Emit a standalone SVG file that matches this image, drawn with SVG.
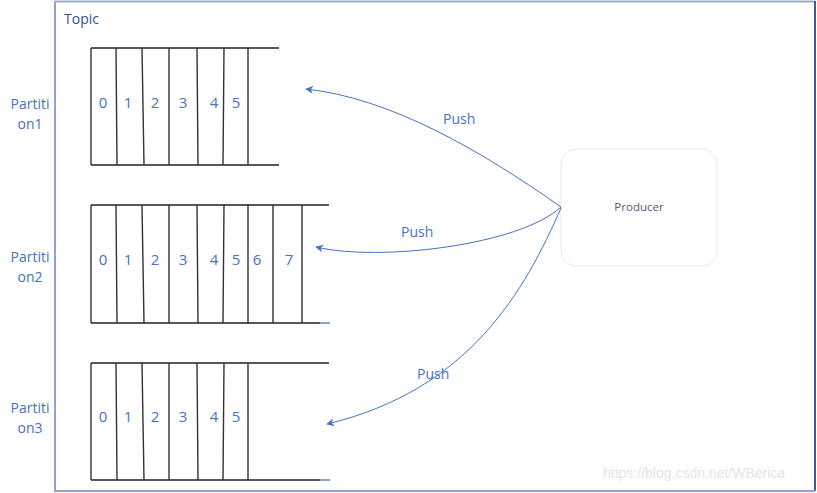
<svg xmlns="http://www.w3.org/2000/svg" width="817" height="493" viewBox="0 0 817 493">
<defs>
<style>
.frame{fill:none;stroke:#8FA2C8;stroke-width:2}
.ln{stroke:#222;stroke-width:1.3;fill:none}
.dv{stroke:#333;stroke-width:1.4;fill:none}
.dg{font-family:"Open Sans","Liberation Sans",sans-serif;font-size:15px;fill:#4472C4;text-anchor:middle}
.pl{font-family:"Open Sans","Liberation Sans",sans-serif;font-size:14px;fill:#4472C4;text-anchor:middle}
.push{font-family:"Open Sans","Liberation Sans",sans-serif;font-size:14px;fill:#4472C4}
.conn{fill:none;stroke:#4472C4;stroke-width:1}
</style>
<marker id="ah" viewBox="0 0 10 10" refX="9" refY="5" markerWidth="8" markerHeight="8" orient="auto-start-reverse" markerUnits="userSpaceOnUse">
<path d="M0,0 L10,5 L0,10 L3,5 Z" fill="#4472C4"/>
</marker>
</defs>
<rect width="817" height="493" fill="#fff"/>
<g id="topic">
<path d="M55,1.5 H815" stroke="#9BAACB" stroke-width="2" fill="none"/>
<path d="M815,1 V491" stroke="#3C5A9A" stroke-width="2" fill="none"/>
<path d="M55,1 V491 H815" stroke="#8FA2C8" stroke-width="2" fill="none"/>
<text x="64" y="24" font-family="'Open Sans','Liberation Sans',sans-serif" font-size="14" fill="#2F4F8F">Topic</text>
</g>
<g id="partition1">
<text class="pl" x="30" y="109">Partiti</text>
<text class="pl" x="30" y="129">on1</text>
<path class="ln" d="M91,48 H279 M91,165 H279 M91,48 V165"/>
<path class="dv" d="M116,48 L117,165 M142,48 L144,165 M169,48 V165 M197,48 L198,165 M224,48 L223,165 M248,48 V165"/>
<text class="dg" x="103" y="108">0</text><text class="dg" x="128" y="108">1</text><text class="dg" x="155" y="108">2</text><text class="dg" x="183" y="108">3</text><text class="dg" x="214" y="108">4</text><text class="dg" x="236" y="108">5</text>
</g>
<g id="partition2">
<text class="pl" x="30" y="262">Partiti</text>
<text class="pl" x="30" y="282">on2</text>
<path class="ln" d="M91,205 H329 M91,323 H320 M91,205 V323"/>
<path d="M320,323 H330" stroke="#4472C4" stroke-width="1.3"/>
<path class="dv" d="M116,205 L117,323 M142,205 L144,323 M169,205 V323 M197,205 L198,323 M224,205 L223,323 M248,205 V323 M273,205 V323 M302,205 V323"/>
<text class="dg" x="103" y="265">0</text><text class="dg" x="128" y="265">1</text><text class="dg" x="155" y="265">2</text><text class="dg" x="183" y="265">3</text><text class="dg" x="214" y="265">4</text><text class="dg" x="236" y="265">5</text><text class="dg" x="257" y="265">6</text><text class="dg" x="289" y="265">7</text>
</g>
<g id="partition3">
<text class="pl" x="30" y="413">Partiti</text>
<text class="pl" x="30" y="433">on3</text>
<path class="ln" d="M91,363 H329 M91,480 H320 M91,363 V480"/>
<path d="M320,480 H330" stroke="#4472C4" stroke-width="1.3"/>
<path class="dv" d="M116,363 L117,480 M142,363 L144,480 M169,363 V480 M197,363 L198,480 M224,363 L223,480 M248,363 V480"/>
<text class="dg" x="103" y="422">0</text><text class="dg" x="128" y="422">1</text><text class="dg" x="155" y="422">2</text><text class="dg" x="183" y="422">3</text><text class="dg" x="214" y="422">4</text><text class="dg" x="236" y="422">5</text>
</g>
<g id="producer">
<rect x="561" y="149" width="156" height="117" rx="15" fill="#fff" stroke="#E6E8EF" stroke-width="1"/>
<text x="639" y="211" font-family="'Open Sans','Liberation Sans',sans-serif" font-size="11.5" fill="#555a78" text-anchor="middle">Producer</text>
</g>
<g id="connectors">
<path class="conn" marker-end="url(#ah)" d="M561,207 C480,150 390,98 306,89"/>
<path class="conn" marker-end="url(#ah)" d="M561,207 C520,245 380,262 316,247"/>
<path class="conn" marker-end="url(#ah)" d="M561,208 C525,290 470,390 327,424"/>
<text class="push" x="443" y="124">Push</text>
<text class="push" x="401" y="237">Push</text>
<text class="push" x="417" y="379">Push</text>
</g>
<text x="603" y="478" font-family="'Liberation Sans',sans-serif" font-size="14" fill="#E4E4E4">https://blog.csdn.net/WBerica</text>
</svg>
